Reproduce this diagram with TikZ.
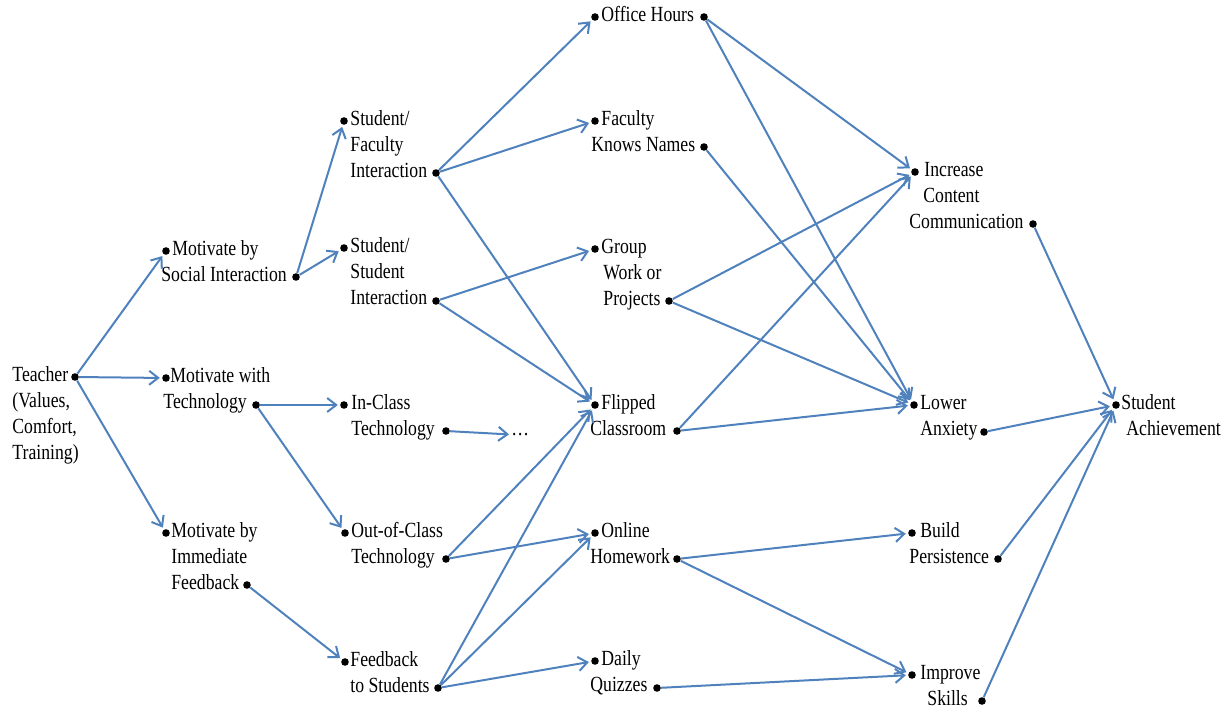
\documentclass[tikz,border=0pt]{standalone}
\usepackage{fontspec}
\setmainfont{Liberation Serif}[FakeStretch=0.82]
\usetikzlibrary{arrows.meta}
\definecolor{lineblue}{RGB}{79,129,189}
\newlength{\pxunit}
\setlength{\pxunit}{0.5pt}
\newcommand{\ind}[1]{\hspace*{#1\pxunit}}

\begin{document}
\begin{tikzpicture}[x=0.5pt, y=-0.5pt,
    lbl/.style={anchor=base west, align=left, inner sep=0pt,
      font=\fontsize{10.8}{13}\selectfont},
    dot/.style={circle, fill=black, inner sep=0pt, minimum size=3.8pt},
    link/.style={draw=lineblue, line width=1pt, shorten >=1pt,
      -{Straight Barb[length=4.5pt, width=7pt]}}]
    \useasboundingbox (0,0) rectangle (1228,710);
    % first column (labels sit on the baseline of their last line)
    \node[lbl] (Teacher) at (12,460) {Teacher\\(Values,\\Comfort,\\Training)};
    \node[dot] (TeacherOut) at (75,377) {};
    % motivations
    \node[lbl] (Social) at (161,282) {\ind{11}Motivate by\\Social Interaction};
    \node[dot] (SocialIn) at (166,251) {};
    \node[dot] (SocialOut) at (296,277) {};
    \node[lbl] (Tech) at (163,409) {\ind{7}Motivate with\\Technology};
    \node[dot] (TechIn) at (166,378) {};
    \node[dot] (TechOut) at (256,405) {};
    \node[lbl] (Immediate) at (171,590) {Motivate by\\Immediate\\Feedback};
    \node[dot] (ImmediateIn) at (166,533) {};
    \node[dot] (ImmediateOut) at (247,585) {};
    % means
    \node[lbl] (StuFac) at (350,178) {Student/\\Faculty\\Interaction};
    \node[dot] (StuFacIn) at (344,121) {};
    \node[dot] (StuFacOut) at (436,173) {};
    \node[lbl] (StuStu) at (350,305) {Student/\\Student\\Interaction};
    \node[dot] (StuStuIn) at (344,248) {};
    \node[dot] (StuStuOut) at (436,301) {};
    \node[lbl] (InClass) at (351,436) {In-Class\\Technology};
    \node[dot] (InClassIn) at (344,405) {};
    \node[dot] (InClassOut) at (446,431) {};
    \node[lbl] (More) at (511,436) {\ldots};
    \node[lbl] (OutClass) at (351,564) {Out-of-Class\\Technology};
    \node[dot] (OutClassIn) at (345,533) {};
    \node[dot] (OutClassOut) at (446,559) {};
    \node[lbl] (Feedback) at (350,693) {Feedback\\to Students};
    \node[dot] (FeedbackIn) at (345,662) {};
    \node[dot] (FeedbackOut) at (438,688) {};
    % practices
    \node[lbl] (Office) at (601,22) {Office Hours};
    \node[dot] (OfficeIn) at (595,17) {};
    \node[dot] (OfficeOut) at (704,17) {};
    \node[lbl] (Names) at (591,152) {\ind{10}Faculty\\Knows Names};
    \node[dot] (NamesIn) at (595,121) {};
    \node[dot] (NamesOut) at (704,147) {};
    \node[lbl] (Group) at (601,306) {Group\\\ind{2}Work or\\\ind{2}Projects};
    \node[dot] (GroupIn) at (595,249) {};
    \node[dot] (GroupOut) at (669,301) {};
    \node[lbl] (Flipped) at (590,436) {\ind{11}Flipped\\Classroom};
    \node[dot] (FlippedIn) at (595,405) {};
    \node[dot] (FlippedOut) at (677,431) {};
    \node[lbl] (Online) at (590,564) {\ind{11}Online\\Homework};
    \node[dot] (OnlineIn) at (595,533) {};
    \node[dot] (OnlineOut) at (677,559) {};
    \node[lbl] (Daily) at (590,692) {\ind{11}Daily\\Quizzes};
    \node[dot] (DailyIn) at (595,661) {};
    \node[dot] (DailyOut) at (657,688) {};
    % effects
    \node[lbl] (Increase) at (909,229) {\ind{15}Increase\\\ind{14}Content\\Communication};
    \node[dot] (IncreaseIn) at (915,172) {};
    \node[dot] (IncreaseOut) at (1033,224) {};
    \node[lbl] (Lower) at (920,436) {Lower\\Anxiety};
    \node[dot] (LowerIn) at (914,405) {};
    \node[dot] (LowerOut) at (984,432) {};
    \node[lbl] (Build) at (909,564) {\ind{11}Build\\Persistence};
    \node[dot] (BuildIn) at (912,533) {};
    \node[dot] (BuildOut) at (998,559) {};
    \node[lbl] (Improve) at (920,706) {Improve\\\ind{7}Skills};
    \node[dot] (ImproveIn) at (912,675) {};
    \node[dot] (ImproveOut) at (982,701) {};
    % goal
    \node[lbl] (Achieve) at (1121,436) {Student\\\ind{5}Achievement};
    \node[dot] (AchieveIn) at (1116,405) {};
    % connectors
    \draw[link] (TeacherOut) -- (SocialIn);
    \draw[link] (TeacherOut) -- (TechIn);
    \draw[link] (TeacherOut) -- (ImmediateIn);
    \draw[link] (SocialOut) -- (StuFacIn);
    \draw[link] (SocialOut) -- (StuStuIn);
    \draw[link] (TechOut) -- (InClassIn);
    \draw[link] (TechOut) -- (OutClassIn);
    \draw[link] (ImmediateOut) -- (FeedbackIn);
    \draw[link] (StuFacOut) -- (OfficeIn);
    \draw[link] (StuFacOut) -- (NamesIn);
    \draw[link] (StuFacOut) -- (FlippedIn);
    \draw[link] (StuStuOut) -- (GroupIn);
    \draw[link] (StuStuOut) -- (FlippedIn);
    \draw[link] (InClassOut) -- (More);
    \draw[link] (OutClassOut) -- (FlippedIn);
    \draw[link] (OutClassOut) -- (OnlineIn);
    \draw[link] (FeedbackOut) -- (FlippedIn);
    \draw[link] (FeedbackOut) -- (OnlineIn);
    \draw[link] (FeedbackOut) -- (DailyIn);
    \draw[link] (OfficeOut) -- (IncreaseIn);
    \draw[link] (OfficeOut) -- (LowerIn);
    \draw[link] (NamesOut) -- (LowerIn);
    \draw[link] (GroupOut) -- (IncreaseIn);
    \draw[link] (GroupOut) -- (LowerIn);
    \draw[link] (FlippedOut) -- (IncreaseIn);
    \draw[link] (FlippedOut) -- (LowerIn);
    \draw[link] (OnlineOut) -- (BuildIn);
    \draw[link] (OnlineOut) -- (ImproveIn);
    \draw[link] (DailyOut) -- (ImproveIn);
    \draw[link] (IncreaseOut) -- (AchieveIn);
    \draw[link] (LowerOut) -- (AchieveIn);
    \draw[link] (BuildOut) -- (AchieveIn);
    \draw[link] (ImproveOut) -- (AchieveIn);
\end{tikzpicture}
\end{document}
